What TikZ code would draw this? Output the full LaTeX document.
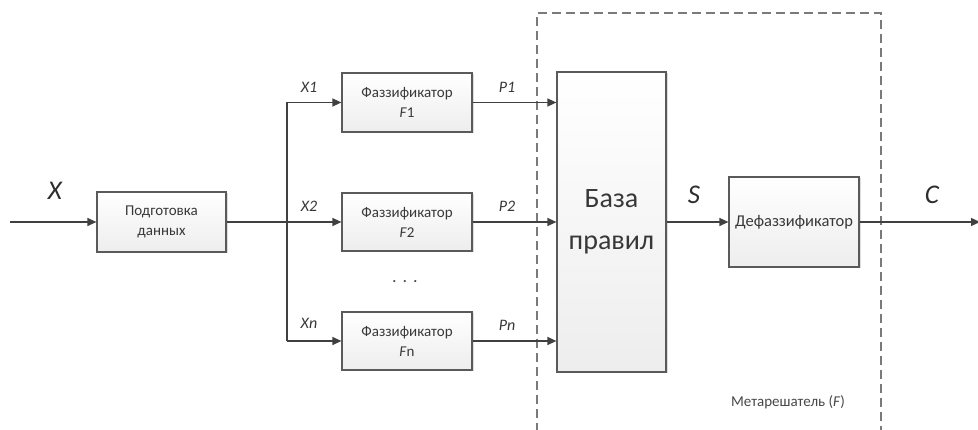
\documentclass[tikz,border=0pt]{standalone}
\usepackage{fontspec}
\setmainfont{Carlito}
\usetikzlibrary{arrows.meta,shadows}
\definecolor{linec}{HTML}{404040}
\definecolor{framec}{HTML}{5A5A5A}
\definecolor{dashc}{HTML}{7A7A7A}
\tikzset{
  block/.style={draw=framec, line width=1.2pt, top color=white, bottom color=gray!14,
    drop shadow={shadow xshift=1.5pt, shadow yshift=-1.5pt, fill=gray!45, opacity=0.6},
    align=center, inner sep=0pt, font=\fontsize{15}{20}\selectfont, text=black!78},
  conn/.style={draw=linec, line width=1.3pt},
  arr/.style={conn, -{Triangle[length=9pt,width=8pt]}},
  siglabel/.style={font=\fontsize{16}{18}\selectfont\itshape, text=black!78},
  biglabel/.style={font=\fontsize{27}{29}\selectfont\itshape, text=black!82},
}
\begin{document}
\begin{tikzpicture}[x=1pt,y=-1pt]
\useasboundingbox (0,0) rectangle (978,430);

% metasolver frame
\draw[dashc, line width=1.5pt, dash pattern=on 9pt off 5pt]
  (537,432) |- (881,13) -- (881,432);
\node[font=\fontsize{15}{17}\selectfont, text=black!72] (metalbl) at (788,402) {Метарешатель (\textit{F})};

% blocks
\node[block, minimum width=129pt, minimum height=60pt] (prep) at (161.5,222) {Подготовка\\данных};
\node[block, minimum width=130pt, minimum height=59pt] (f1) at (407,102.5) {Фаззификатор\\\textit{F}1};
\node[block, minimum width=130pt, minimum height=58pt] (f2) at (407,222) {Фаззификатор\\\textit{F}2};
\node[block, minimum width=130pt, minimum height=58pt] (fn) at (407,341) {Фаззификатор\\\textit{F}n};
\node[block, minimum width=109pt, minimum height=300pt, font=\fontsize{28}{42}\selectfont] (base) at (611.5,222) {База\\правил};
\node[block, minimum width=130pt, minimum height=90pt, font=\fontsize{16.5}{18}\selectfont] (defuz) at (794,222) {Дефаззификатор};

\node[font=\fontsize{18}{18}\selectfont, text=black!70] (dots) at (405,282) {.\,\,.\,\,.};

% branching point coordinates
\coordinate (in) at (10,222);
\coordinate (jt) at (287,102.5);
\coordinate (jb) at (287,341);
\coordinate (out) at (980,222);

% connectors
\draw[arr] (in) -- (prep.west);
\draw[arr] (prep.east) -- (f2.west);
\draw[conn] (jt) -- (jb);
\draw[arr] (jt) -- (f1.west);
\draw[arr] (jb) -- (fn.west);
\draw[arr] (f1.east) -- (base.west |- f1.east);
\draw[arr] (f2.east) -- (base.west |- f2.east);
\draw[arr] (fn.east) -- (base.west |- fn.east);
\draw[arr] (base.east |- defuz.west) -- (defuz.west);
\draw[arr] (defuz.east) -- (out);

% signal labels
\node[biglabel] (lx) at (55,191) {X};
\node[biglabel] (ls) at (694,195) {S};
\node[biglabel] (lc) at (932,195) {C};
\node[siglabel] (lx1) at (309,87) {X1};
\node[siglabel] (lx2) at (309,206) {X2};
\node[siglabel] (lxn) at (309,323) {Xn};
\node[siglabel] (lp1) at (507,87) {P1};
\node[siglabel] (lp2) at (507,206) {P2};
\node[siglabel] (lpn) at (507,325) {Pn};
\end{tikzpicture}
\end{document}
